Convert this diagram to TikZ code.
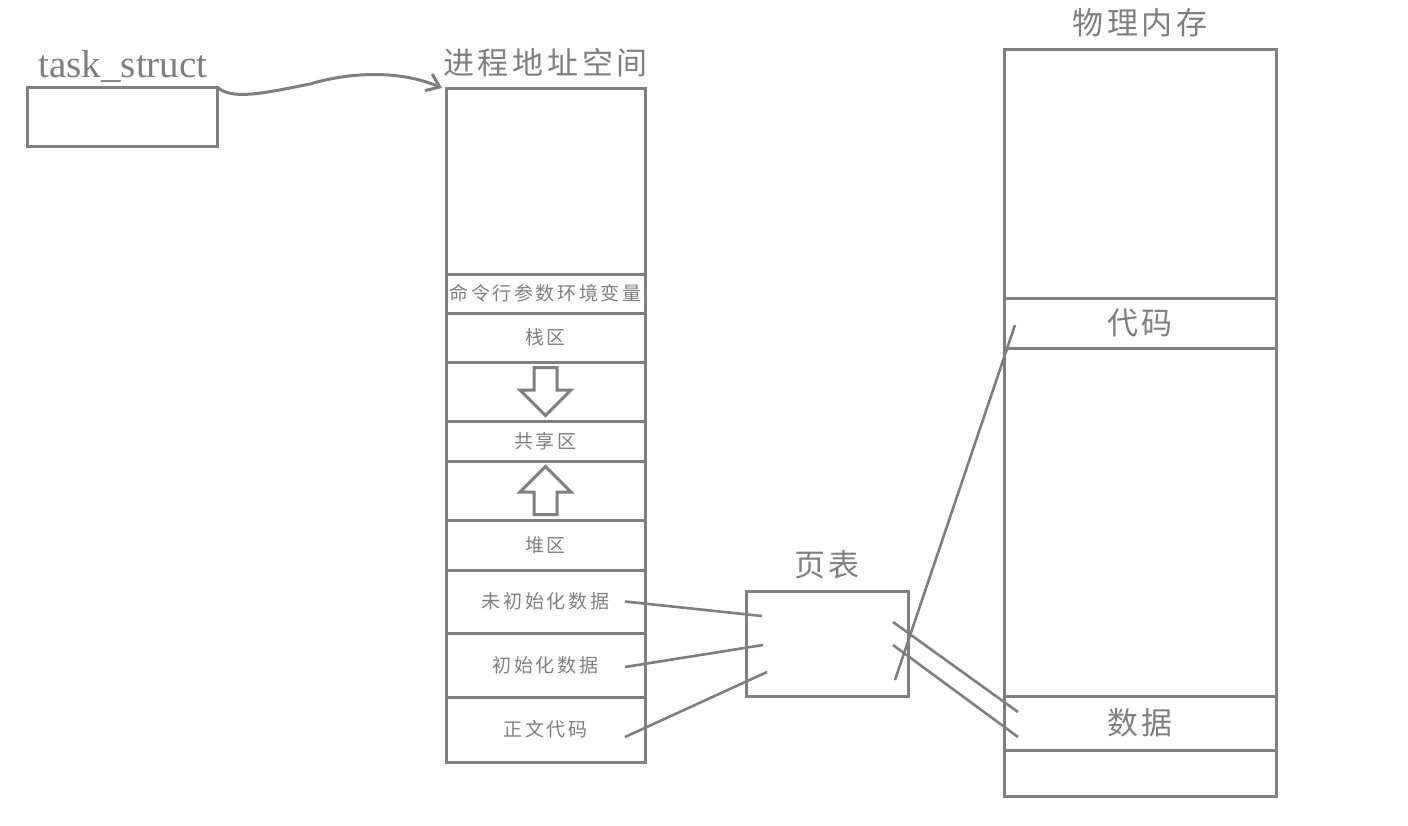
\documentclass[tikz,border=0pt]{standalone}
\usepackage{fontspec}
\setmainfont{Liberation Serif}
\newfontfamily\cjk[LetterSpace=12]{Noto Sans CJK SC}
\newfontfamily\cjksmall[LetterSpace=14]{Noto Sans CJK SC}
\usetikzlibrary{positioning, arrows.meta, calc, shapes.arrows}
\definecolor{ink}{HTML}{7F7F7F}

\begin{document}
\begin{tikzpicture}[x=0.5pt, y=-0.5pt, color=ink, line width=1.5pt,
  cell/.style={draw, outer sep=0pt, inner sep=0pt, minimum width=99.5pt, font=\cjksmall\fontsize{9.5}{11}\selectfont},
  mem/.style={draw, outer sep=0pt, inner sep=0pt, minimum width=136pt, font=\cjk\fontsize{15.5}{18}\selectfont},
  title/.style={inner sep=0pt, font=\cjk\fontsize{15.5}{18}\selectfont},
  blockarrow/.style={single arrow, draw, inner sep=5pt, minimum width=24pt, minimum height=24pt, single arrow head extend=7pt},
  link/.style={line width=1.3pt}]
\useasboundingbox (0,0) rectangle (1408,825);

% task_struct
\node[draw, outer sep=0pt, minimum width=95pt, minimum height=29.5pt] (task) at (122,116.5) {};
\node[inner sep=0pt, font=\fontsize{19.5}{22}\selectfont] (tasklabel) at (123,66) {task\_struct};

% process address space
\node[cell, minimum height=93pt] (top) at (545.5,181) {};
\node[cell, minimum height=19.5pt, below=0pt of top] (args) {命令行参数环境变量};
\node[cell, minimum height=24.5pt, below=0pt of args] (stack) {栈区};
\node[cell, minimum height=29.5pt, below=0pt of stack] (gapdown) {};
\node[cell, minimum height=20pt, below=0pt of gapdown] (shared) {共享区};
\node[cell, minimum height=29.5pt, below=0pt of shared] (gapup) {};
\node[cell, minimum height=25pt, below=0pt of gapup] (heap) {堆区};
\node[cell, minimum height=31.5pt, below=0pt of heap] (bss) {未初始化数据};
\node[cell, minimum height=32pt, below=0pt of bss] (data) {初始化数据};
\node[cell, minimum height=32.5pt, below=0pt of data] (text) {正文代码};
\node[title, above=5pt of top] (addrtitle) {进程地址空间};

\node[blockarrow, shape border rotate=270, anchor=tail] (down) at ($(gapdown.north)+(0,4)$) {};
\node[blockarrow, shape border rotate=90, anchor=tail] (up) at ($(gapup.south)+(0,-4)$) {};

% page table
\node[draw, outer sep=0pt, minimum width=81pt, minimum height=52.5pt] (ptab) at (827,643.5) {};
\node[title, above=5pt of ptab] (ptabtitle) {页表};

% physical memory
\node[mem, minimum height=124.5pt] (free1) at (1140,173.5) {};
\node[mem, minimum height=25pt, below=0pt of free1] (code) {代码};
\node[mem, minimum height=174pt, below=0pt of code] (free2) {};
\node[mem, minimum height=27pt, below=0pt of free2] (pdata) {数据};
\node[mem, minimum height=23pt, below=0pt of pdata] (free3) {};
\node[title, above=5pt of free1] (memtitle) {物理内存};

\draw[-{Straight Barb[length=6pt, width=9pt]}] (task.north east)
  .. controls (232,100) and (260,94) .. (310,84)
  .. controls (350,72) and (400,70) .. ($(top.north west)+(-4,0)$);

\draw[link] ($(bss.east)+(-20,0)$) -- ($(ptab.west)+(16,-27.5)$);
\draw[link] ($(data.east)+(-20,2)$) -- ($(ptab.west)+(17,1.5)$);
\draw[link] ($(text.east)+(-20,7.5)$) -- ($(ptab.west)+(21,28.5)$);
\draw[link] ($(ptab.east)+(-13,36.5)$) -- ($(code.west)+(11,2)$);
\draw[link] ($(ptab.east)+(-15,-21.5)$) -- ($(pdata.west)+(14,-11)$);
\draw[link] ($(ptab.east)+(-15,1.5)$) -- ($(pdata.west)+(14,14)$);
\end{tikzpicture}
\end{document}
